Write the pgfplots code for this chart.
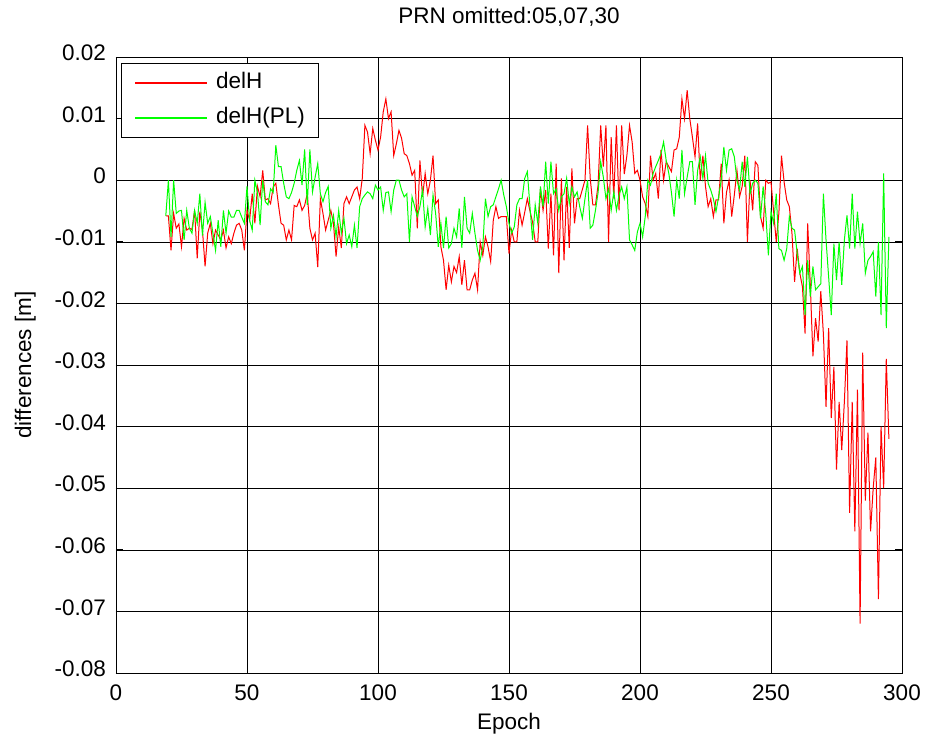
\documentclass[border=0pt]{standalone}
\usepackage{pgfplots}
\pgfplotsset{compat=1.18}
\usepackage{pgfplotstable}
\usepackage{fontspec}
\setmainfont{Liberation Sans}
\definecolor{mred}{rgb}{1,0,0}
\definecolor{mgreen}{rgb}{0,1,0}
\newcommand{\mfont}{\fontsize{22.5bp}{26bp}\selectfont}
\pgfplotstableread{
e h pl
19 -0.0058 -0.0058
20 -0.0058 0.0000
21 -0.0114 -0.0092
22 -0.0054 0.0000
23 -0.0078 -0.0054
24 -0.0071 -0.0050
25 -0.0108 -0.0049
26 -0.0062 -0.0097
27 -0.0081 -0.0049
28 -0.0078 -0.0078
29 -0.0080 -0.0086
30 -0.0049 -0.0049
31 -0.0127 -0.0070
32 -0.0051 -0.0022
33 -0.0081 -0.0090
34 -0.0140 -0.0036
35 -0.0086 -0.0070
36 -0.0070 -0.0059
37 -0.0103 -0.0086
38 -0.0081 -0.0114
39 -0.0089 -0.0065
40 -0.0097 -0.0108
41 -0.0081 -0.0049
42 -0.0110 -0.0086
43 -0.0092 -0.0050
44 -0.0103 -0.0060
45 -0.0086 -0.0060
46 -0.0073 -0.0049
47 -0.0070 -0.0049
48 -0.0081 -0.0060
49 -0.0114 -0.0070
50 -0.0049 -0.0010
51 -0.0065 -0.0065
52 -0.0022 -0.0081
53 -0.0070 0.0000
54 -0.0010 -0.0020
55 -0.0027 -0.0073
56 0.0016 0.0000
57 -0.0032 -0.0035
58 -0.0030 -0.0040
59 -0.0038 -0.0014
60 -0.0011 -0.0020
61 -0.0005 0.0057
62 -0.0040 0.0022
63 -0.0070 0.0022
64 -0.0073 -0.0005
65 -0.0097 -0.0027
66 -0.0081 -0.0030
67 -0.0097 -0.0020
68 -0.0041 -0.0005
69 -0.0043 0.0016
70 -0.0032 0.0032
71 -0.0049 -0.0008
72 -0.0041 0.0050
73 -0.0022 -0.0040
74 -0.0078 0.0050
75 -0.0097 -0.0019
76 -0.0086 0.0005
77 -0.0141 0.0027
78 -0.0030 -0.0022
79 -0.0054 -0.0035
80 -0.0081 -0.0020
81 -0.0065 -0.0010
82 -0.0049 -0.0078
83 -0.0070 -0.0057
84 -0.0124 -0.0092
85 -0.0076 -0.0049
86 -0.0110 -0.0086
87 -0.0038 -0.0062
88 -0.0027 -0.0103
89 -0.0038 -0.0089
90 -0.0027 -0.0108
91 -0.0016 -0.0073
92 -0.0011 -0.0110
93 -0.0030 -0.0043
94 0.0003 -0.0030
95 0.0089 -0.0024
96 0.0078 -0.0019
97 0.0043 -0.0022
98 0.0084 -0.0030
99 0.0065 -0.0008
100 0.0049 -0.0016
101 0.0070 -0.0011
102 0.0111 -0.0049
103 0.0132 -0.0020
104 0.0100 -0.0019
105 0.0111 -0.0051
106 0.0040 -0.0016
107 0.0059 0.0000
108 0.0081 0.0000
109 0.0068 -0.0016
110 0.0043 -0.0027
111 0.0040 -0.0022
112 0.0027 -0.0100
113 0.0008 -0.0027
114 0.0016 -0.0043
115 -0.0078 -0.0059
116 0.0032 -0.0043
117 -0.0027 -0.0016
118 0.0011 -0.0076
119 -0.0022 -0.0046
120 0.0000 -0.0089
121 0.0040 -0.0024
122 -0.0038 -0.0054
123 -0.0032 -0.0108
124 -0.0108 -0.0070
125 -0.0130 -0.0110
126 -0.0178 -0.0059
127 -0.0138 -0.0110
128 -0.0165 -0.0103
129 -0.0140 -0.0078
130 -0.0150 -0.0092
131 -0.0124 -0.0046
132 -0.0170 -0.0110
133 -0.0130 -0.0027
134 -0.0178 -0.0078
135 -0.0178 -0.0086
136 -0.0162 -0.0054
137 -0.0151 -0.0086
138 -0.0178 -0.0114
139 -0.0100 -0.0130
140 -0.0122 -0.0108
141 -0.0092 -0.0030
142 -0.0108 -0.0059
143 -0.0132 -0.0043
144 -0.0065 -0.0040
145 -0.0043 -0.0027
146 -0.0062 -0.0014
147 -0.0059 0.0000
148 -0.0059 -0.0024
149 -0.0059 -0.0043
150 -0.0119 -0.0070
151 -0.0081 -0.0086
152 -0.0100 -0.0076
153 -0.0100 -0.0040
154 -0.0049 -0.0030
155 -0.0073 -0.0030
156 -0.0052 0.0003
157 -0.0030 0.0014
158 -0.0050 -0.0043
159 -0.0068 -0.0097
160 -0.0100 -0.0040
161 -0.0100 -0.0070
162 -0.0014 -0.0010
163 -0.0049 -0.0043
164 -0.0016 0.0030
165 -0.0111 -0.0038
166 -0.0022 0.0030
167 -0.0122 -0.0022
168 0.0027 -0.0014
169 -0.0151 -0.0049
170 0.0003 -0.0027
171 -0.0130 -0.0022
172 -0.0011 0.0003
173 -0.0110 -0.0038
174 0.0019 -0.0011
175 -0.0070 -0.0027
176 -0.0030 -0.0019
177 -0.0030 -0.0043
178 -0.0015 -0.0062
179 0.0000 -0.0030
180 0.0089 0.0000
181 0.0003 -0.0078
182 -0.0040 -0.0073
183 -0.0040 -0.0049
184 -0.0008 -0.0020
185 0.0089 0.0030
186 0.0022 0.0005
187 0.0089 -0.0030
188 -0.0100 -0.0014
189 0.0070 -0.0049
190 -0.0030 -0.0019
191 0.0089 -0.0049
192 -0.0049 -0.0024
193 0.0089 -0.0011
194 0.0010 -0.0030
195 0.0040 -0.0011
196 0.0089 -0.0097
197 0.0062 -0.0105
198 0.0011 -0.0114
199 0.0016 -0.0084
200 0.0000 -0.0070
201 -0.0027 -0.0092
202 -0.0038 -0.0059
203 -0.0059 0.0000
204 0.0040 -0.0008
205 0.0000 0.0011
206 0.0011 0.0022
207 -0.0030 0.0032
208 0.0049 0.0043
209 0.0000 0.0062
210 0.0030 0.0032
211 0.0022 0.0011
212 0.0014 -0.0020
213 0.0049 -0.0059
214 0.0051 0.0000
215 0.0070 -0.0030
216 0.0132 0.0049
217 0.0100 -0.0022
218 0.0146 0.0005
219 0.0100 0.0030
220 0.0070 0.0030
221 0.0038 -0.0040
222 0.0092 0.0016
223 0.0000 0.0038
224 0.0040 0.0003
225 -0.0010 0.0040
226 -0.0043 -0.0005
227 -0.0030 -0.0016
228 -0.0059 -0.0030
229 -0.0032 -0.0051
230 -0.0032 -0.0027
231 0.0027 0.0000
232 -0.0070 0.0054
233 -0.0020 0.0016
234 0.0000 0.0049
235 -0.0059 0.0051
236 -0.0024 0.0038
237 0.0016 0.0000
238 -0.0027 -0.0016
239 -0.0010 0.0030
240 0.0040 -0.0011
241 -0.0100 0.0038
242 0.0000 -0.0022
243 -0.0049 -0.0005
244 0.0030 0.0000
245 0.0024 -0.0005
246 -0.0059 -0.0062
247 -0.0078 -0.0010
248 0.0000 -0.0054
249 -0.0005 -0.0122
250 -0.0003 -0.0051
251 -0.0051 -0.0070
252 -0.0100 -0.0022
253 -0.0054 -0.0111
254 0.0040 -0.0114
255 -0.0003 -0.0130
256 -0.0032 -0.0111
257 -0.0043 -0.0059
258 -0.0086 -0.0078
259 -0.0165 -0.0081
260 -0.0111 -0.0119
261 -0.0151 -0.0151
262 -0.0173 -0.0140
263 -0.0249 -0.0219
264 -0.0070 -0.0130
265 -0.0170 -0.0189
266 -0.0286 -0.0140
267 -0.0224 -0.0178
268 -0.0262 -0.0173
269 -0.0180 -0.0168
270 -0.0250 -0.0022
271 -0.0368 -0.0097
272 -0.0240 -0.0157
273 -0.0386 -0.0219
274 -0.0303 -0.0103
275 -0.0470 -0.0162
276 -0.0360 -0.0100
277 -0.0438 -0.0170
278 -0.0360 -0.0097
279 -0.0260 -0.0057
280 -0.0540 -0.0111
281 -0.0360 -0.0022
282 -0.0570 -0.0111
283 -0.0340 -0.0051
284 -0.0720 -0.0103
285 -0.0280 -0.0070
286 -0.0520 -0.0151
287 -0.0410 -0.0130
288 -0.0570 -0.0124
289 -0.0500 -0.0116
290 -0.0450 -0.0189
291 -0.0680 -0.0100
292 -0.0400 -0.0219
293 -0.0500 0.0011
294 -0.0290 -0.0240
295 -0.0420 -0.0092
}\data
\begin{document}
\begin{tikzpicture}
\path[use as bounding box] (-116bp,-63bp) rectangle (812bp,673bp);
\begin{axis}[
  at={(0,0)}, anchor=south west,
  scale only axis, width=786bp, height=616bp,
  xmin=0, xmax=300, ymin=-0.08, ymax=0.02,
  scaled y ticks=false, scaled x ticks=false,
  xtick={0,50,100,150,200,250,300},
  xticklabels={0,50,100,150,200,250,300},
  ytick={-0.08,-0.07,-0.06,-0.05,-0.04,-0.03,-0.02,-0.01,0,0.01,0.02},
  yticklabels={-0.08,-0.07,-0.06,-0.05,-0.04,-0.03,-0.02,-0.01,0,0.01,0.02},
  tick align=inside, major tick length=7bp,
  xmajorgrids, ymajorgrids,
  grid style={black, line width=0.6bp},
  axis line style={black, line width=0.9bp},
  tick style={black, line width=0.9bp},
  tick label style={font=\mfont},
  xticklabel style={inner sep=0pt, anchor=north, yshift=-12bp},
  yticklabel style={inner sep=0pt, anchor=east, xshift=-10bp, yshift=4bp},
  title={PRN omitted:05,07,30},
  title style={font=\mfont, inner sep=0pt, at={(axis description cs:0.5,1.045)}, anchor=base},
  xlabel={Epoch},
  xlabel style={font=\mfont, inner sep=0pt, at={(axis description cs:0.5,-0.0925)}, anchor=base},
  ylabel={differences [m]},
  ylabel style={font=\mfont, inner sep=0pt, at={(axis description cs:-0.1081,0.5)}, anchor=base, rotate=0},
  legend style={at={(axis description cs:0.0059,0.9898)}, anchor=north west,
    draw=black, line width=1bp, fill=white, font=\mfont,
    inner xsep=14bp, inner ysep=9bp, row sep=14bp,
    nodes={inner sep=0pt, text height=16bp, text depth=5bp},
    /tikz/every odd column/.append style={column sep=9bp}},
  legend cell align=left,
]
\addplot[mred, line width=1bp, legend image code/.code={\fill[fill=mred, draw=none] (0bp,-1bp) rectangle (72bp,1bp);}] table[x=e, y=h] {\data};
\addlegendentry{delH}
\addplot[mgreen, line width=1bp, legend image code/.code={\fill[fill=mgreen, draw=none] (0bp,-1bp) rectangle (72bp,1bp);}] table[x=e, y=pl] {\data};
\addlegendentry{delH(PL)}
\end{axis}
\end{tikzpicture}
\end{document}
